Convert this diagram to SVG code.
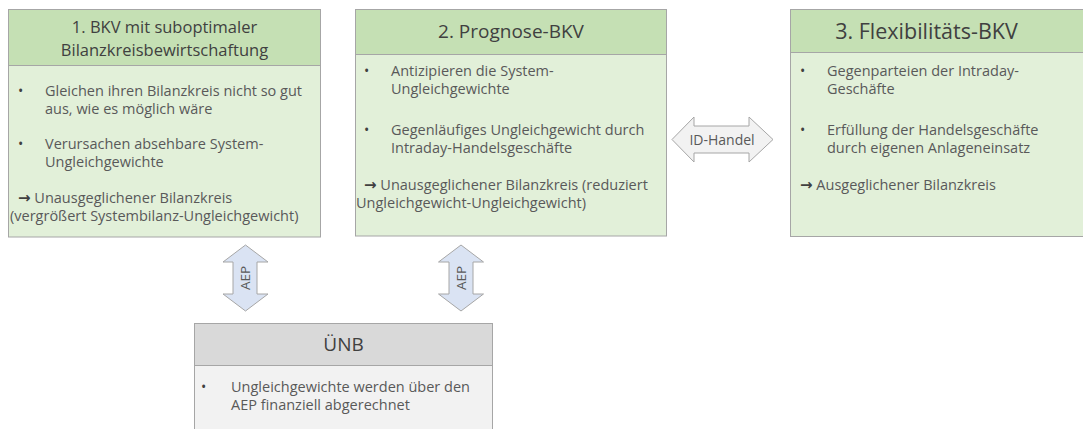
<svg xmlns="http://www.w3.org/2000/svg" width="1083" height="429" viewBox="0 0 1083 429">
<style>
.hd{fill:#c5e0b4;stroke:#a6a6a6;stroke-width:1}
.bd{fill:#e2f0d9;stroke:#a6a6a6;stroke-width:1}
.ghd{fill:#d9d9d9;stroke:#a6a6a6;stroke-width:1}
.gbd{fill:#f2f2f2;stroke:#a6a6a6;stroke-width:1}
.ht{font-family:"Open Sans","Noto Sans",sans-serif;font-size:19px;fill:#404040;text-anchor:middle}
.t{font-family:"Open Sans","Noto Sans",sans-serif;font-size:14.5px;fill:#595959}
.b{font-family:"Open Sans","Noto Sans",sans-serif;font-size:14px;fill:#404040}
.ar{font-family:"DejaVu Sans",sans-serif;font-weight:bold;font-size:15px;fill:#404040}
.ab{fill:#dae3f3;stroke:#a6a6a6;stroke-width:1}
.ag{fill:#f2f2f2;stroke:#a6a6a6;stroke-width:1}
.al{font-family:"Open Sans","Noto Sans",sans-serif;font-size:13.5px;fill:#595959;text-anchor:middle}
</style>
<rect width="1083" height="429" fill="#ffffff"/>

<g id="node-bkv1">
<rect class="bd" x="8.5" y="65.5" width="312" height="171.5"/>
<rect class="hd" x="8.5" y="9.5" width="312" height="56"/>
<text class="ht" x="164.5" y="32.5" style="font-size:16.5px">1. BKV mit suboptimaler</text>
<text class="ht" x="164.5" y="55.5" style="font-size:16.5px">Bilanzkreisbewirtschaftung</text>
<text class="b" x="18" y="96">•</text>
<text class="t" x="45" y="96">Gleichen ihren Bilanzkreis nicht so gut</text>
<text class="t" x="45" y="114">aus, wie es möglich wäre</text>
<text class="b" x="18" y="149">•</text>
<text class="t" x="45" y="149">Verursachen absehbare System-</text>
<text class="t" x="45" y="167">Ungleichgewichte</text>
<text class="t" x="18" y="203"><tspan class="ar">→</tspan> Unausgeglichener Bilanzkreis</text>
<text class="t" x="10" y="221">(vergrößert Systembilanz-Ungleichgewicht)</text>
</g>

<g id="node-bkv2">
<rect class="bd" x="355.5" y="54.5" width="311" height="181.5"/>
<rect class="hd" x="355.5" y="9.5" width="311" height="45"/>
<text class="ht" x="511" y="38">2. Prognose-BKV</text>
<text class="b" x="364" y="76">•</text>
<text class="t" x="391" y="76">Antizipieren die System-</text>
<text class="t" x="391" y="94">Ungleichgewichte</text>
<text class="b" x="364" y="135">•</text>
<text class="t" x="391" y="135">Gegenläufiges Ungleichgewicht durch</text>
<text class="t" x="391" y="153">Intraday-Handelsgeschäfte</text>
<text class="t" x="364" y="190"><tspan class="ar">→</tspan> Unausgeglichener Bilanzkreis (reduziert</text>
<text class="t" x="356" y="208">Ungleichgewicht-Ungleichgewicht)</text>
</g>

<g id="node-bkv3">
<rect class="bd" x="790.5" y="52.5" width="300" height="184"/>
<rect class="hd" x="790.5" y="9.5" width="300" height="43"/>
<text class="ht" x="926.5" y="39" style="font-size:21.5px">3. Flexibilitäts-BKV</text>
<text class="b" x="800" y="76">•</text>
<text class="t" x="827" y="76">Gegenparteien der Intraday-</text>
<text class="t" x="827" y="94">Geschäfte</text>
<text class="b" x="800" y="135">•</text>
<text class="t" x="827" y="135">Erfüllung der Handelsgeschäfte</text>
<text class="t" x="827" y="153">durch eigenen Anlageneinsatz</text>
<text class="t" x="800" y="190"><tspan class="ar">→</tspan> Ausgeglichener Bilanzkreis</text>
</g>

<g id="node-uenb">
<rect class="gbd" x="194.5" y="365.5" width="298" height="80"/>
<rect class="ghd" x="194.5" y="323.5" width="298" height="42"/>
<text class="ht" x="343.5" y="351">ÜNB</text>
<text class="b" x="201" y="392">•</text>
<text class="t" x="231" y="392">Ungleichgewichte werden über den</text>
<text class="t" x="231" y="410">AEP finanziell abgerechnet</text>
</g>

<g id="connectors">
<g id="conn-id-handel">
<path class="ag" d="M672,139.5 L694,117 L694,126 L749,126 L749,117 L773,139.5 L749,162 L749,153 L694,153 L694,162 Z"/>
<text class="al" x="722" y="144.5" style="font-size:14px">ID-Handel</text>
</g>
<g id="conn-aep1">
<path class="ab" d="M245.5,245 L268,262 L257,262 L257,294 L268,294 L245.5,311 L223,294 L233,294 L233,262 L223,262 Z"/>
<text class="al" transform="translate(250,278) rotate(-90)">AEP</text>
</g>
<g id="conn-aep2">
<path class="ab" d="M461,245 L483.5,262 L473,262 L473,294 L483.5,294 L461,311 L438.5,294 L449,294 L449,262 L438.5,262 Z"/>
<text class="al" transform="translate(465.5,278) rotate(-90)">AEP</text>
</g>
</g>
</svg>
